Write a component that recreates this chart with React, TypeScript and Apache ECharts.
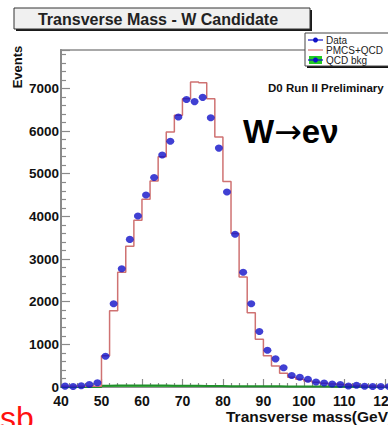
import React, { useEffect, useRef } from "react";
import * as echarts from "echarts";

// Histogram binning: 2 GeV bins, lower edges
const binLowEdges = [
  40, 42, 44, 46, 48, 50, 52, 54, 56, 58, 60, 62, 64, 66, 68, 70, 72, 74, 76, 78, 80,
  82, 84, 86, 88, 90, 92, 94, 96, 98, 100, 102, 104, 106, 108, 110, 112, 114, 116, 118, 120,
];
const binWidth = 2;

// PMCS+QCD prediction (events per bin)
const modelCounts = [
  15, 15, 15, 15, 15, 730, 1790, 2690, 3300, 3910, 4400, 4830, 5400, 5980, 6370, 6760,
  7150, 7130, 6760, 5860, 4820, 3600, 2580, 1740, 1120, 730, 490, 320, 230, 180, 140,
  110, 90, 70, 55, 40, 30, 25, 20, 15, 12,
];

// Data (events per bin)
const dataCounts = [
  20, 10, 30, 60, 100, 720, 1950, 2770, 3460, 4010, 4500, 4910, 5440, 5760, 6330, 6740,
  6690, 6790, 6310, 5600, 4570, 3580, 2690, 1950, 1300, 860, 660, 450, 270, 230, 180,
  117, 95, 70, 58, 25, 40, 18, 10, 12, 10,
];

// QCD background estimate (events per bin)
const qcdCounts = [
  0, 0, 0, 0, 0, 30, 35, 35, 35, 35, 35, 35, 35, 30, 30, 30, 30, 25, 25, 25, 20, 20,
  20, 15, 15, 15, 15, 12, 12, 10, 10, 10, 10, 8, 8, 8, 8, 6, 6, 6, 6,
];

const xTicks = { min: 40, max: 130, interval: 10 };
const yTicks = { min: 0, max: 7900, interval: 1000 };

const FONT = "'Liberation Sans', Arial, Helvetica, sans-serif";

function stepPoints(counts: number[]) {
  const pts: number[][] = binLowEdges.map((x, i) => [x, counts[i]]);
  const last = binLowEdges.length - 1;
  pts.push([binLowEdges[last] + binWidth, counts[last]]);
  return pts;
}

function legendText(label: string, y: number) {
  return {
    type: "text",
    x: 326,
    y,
    style: {
      text: label,
      fill: "#222",
      font: `10px ${FONT}`,
      lineHeight: 9,
      verticalAlign: "middle",
    },
    z: 12,
  };
}

export default function App() {
  const ref = useRef<HTMLDivElement>(null);

  useEffect(() => {
    if (!ref.current) return;
    const chart = echarts.init(ref.current, null, { renderer: "svg" });

    const dataPoints = binLowEdges.map((x, i) => [x + binWidth / 2, dataCounts[i]]);

    chart.setOption({
      animation: false,
      backgroundColor: "#ffffff",
      grid: {
        left: 61,
        top: 50,
        width: 364.5,
        height: 337,
        show: true,
        borderColor: "#a8a8a8",
        borderWidth: 2,
        backgroundColor: "transparent",
      },
      xAxis: {
        type: "value",
        min: xTicks.min,
        max: xTicks.max,
        interval: xTicks.interval,
        splitLine: { show: false },
        axisLine: { lineStyle: { color: "#8a8a8a", width: 1.5 } },
        axisTick: { inside: true, length: 8, lineStyle: { color: "#8a8a8a", width: 1.2 } },
        minorTick: { show: true, splitNumber: 5, length: 4, lineStyle: { color: "#8a8a8a", width: 1.2 } },
        axisLabel: {
          color: "#111",
          fontFamily: FONT,
          fontWeight: "bold",
          fontSize: 14,
          margin: 7,
        },
      },
      yAxis: {
        type: "value",
        min: yTicks.min,
        max: yTicks.max,
        interval: yTicks.interval,
        splitLine: { show: false },
        axisLine: { show: true, lineStyle: { color: "#8a8a8a", width: 2 } },
        axisTick: { inside: true, length: 9, lineStyle: { color: "#8a8a8a", width: 1.2 } },
        minorTick: { show: true, splitNumber: 5, length: 5, lineStyle: { color: "#8a8a8a", width: 1.2 } },
        axisLabel: {
          color: "#111",
          fontFamily: FONT,
          fontWeight: "bold",
          fontSize: 13.5,
          margin: 2,
          formatter: (v: number) => (v % 1000 === 0 ? String(v) : ""),
        },
      },
      series: [
        {
          name: "QCD bkg",
          type: "line",
          step: "end",
          data: stepPoints(qcdCounts),
          showSymbol: false,
          lineStyle: { color: "#1f8f2a", width: 2 },
          areaStyle: { color: "#33cc33" },
          z: 2,
        },
        {
          name: "PMCS+QCD",
          type: "line",
          step: "end",
          data: stepPoints(modelCounts),
          showSymbol: false,
          lineStyle: { color: "#cf7272", width: 1.5 },
          z: 3,
        },
        {
          name: "Data",
          type: "scatter",
          data: dataPoints,
          symbol: "circle",
          symbolSize: [8, 7],
          itemStyle: { color: "#1010c8" },
          z: 4,
        },
      ],
      graphic: [
        // title box with drop shadow
        { type: "rect", shape: { x: 16, y: 10, width: 296, height: 21 }, style: { fill: "#1a1a1a" }, z: 10 },
        {
          type: "rect",
          shape: { x: 14, y: 8, width: 296, height: 21 },
          style: { fill: "#f0f0f0", stroke: "#333", lineWidth: 1 },
          z: 11,
        },
        {
          type: "text",
          x: 158,
          y: 19,
          style: {
            text: "Transverse Mass - W Candidate",
            fill: "#222",
            font: `bold 16px ${FONT}`,
            align: "center",
            verticalAlign: "middle",
          },
          z: 12,
        },
        // legend box
        { type: "rect", shape: { x: 307, y: 35, width: 100, height: 33 }, style: { fill: "#111" }, z: 10 },
        {
          type: "rect",
          shape: { x: 305, y: 33, width: 100, height: 33 },
          style: { fill: "#ffffff", stroke: "#444", lineWidth: 1 },
          z: 11,
        },
        { type: "line", shape: { x1: 308, y1: 40, x2: 323, y2: 40 }, style: { stroke: "#1010c8", lineWidth: 1.2 }, z: 12 },
        { type: "circle", shape: { cx: 315.5, cy: 40, r: 2.5 }, style: { fill: "#1010c8" }, z: 12 },
        legendText("Data", 40),
        { type: "line", shape: { x1: 308, y1: 50, x2: 323, y2: 50 }, style: { stroke: "#cf7272", lineWidth: 1.2 }, z: 12 },
        legendText("PMCS+QCD", 50),
        { type: "rect", shape: { x: 309, y: 56, width: 13, height: 8 }, style: { fill: "#22cc22" }, z: 12 },
        { type: "line", shape: { x1: 308, y1: 60, x2: 323, y2: 60 }, style: { stroke: "#1010c8", lineWidth: 1.2 }, z: 13 },
        { type: "circle", shape: { cx: 315.5, cy: 60, r: 2.5 }, style: { fill: "#1010c8" }, z: 13 },
        legendText("QCD bkg", 60),
        // annotations
        {
          type: "text",
          x: 268,
          y: 88,
          style: { text: "D0 Run II Preliminary", fill: "#111", font: `bold 11.5px ${FONT}`, verticalAlign: "middle" },
          z: 12,
        },
        {
          type: "text",
          x: 243,
          y: 131,
          style: {
            text: "{a|W}{b|\u2192}{a|e\u03bd}",
            verticalAlign: "middle",
            rich: {
              a: { fill: "#000", fontFamily: FONT, fontWeight: "bold", fontSize: 33 },
              b: { fill: "#000", fontFamily: "'DejaVu Sans', sans-serif", fontWeight: "normal", fontSize: 33 },
            },
          },
          z: 12,
        },
        // axis titles
        {
          type: "text",
          x: 17,
          y: 67,
          rotation: Math.PI / 2,
          style: { text: "Events", fill: "#111", font: `bold 13px ${FONT}`, align: "center", verticalAlign: "middle" },
          z: 12,
        },
        {
          type: "text",
          x: 226,
          y: 416,
          style: { text: "Transverse mass(GeV)", fill: "#111", font: `bold 15.5px ${FONT}`, verticalAlign: "middle" },
          z: 12,
        },
        {
          type: "text",
          x: 0,
          y: 402,
          style: { text: "sb", fill: "#ff1010", font: `32px ${FONT}`, verticalAlign: "top" },
          z: 12,
        },
      ],
    });

    return () => chart.dispose();
  }, []);

  return (
    <div
      style={{
        position: "fixed",
        left: 0,
        top: 0,
        width: 388,
        height: 425,
        overflow: "hidden",
        background: "#ffffff",
      }}
    >
      <div ref={ref} style={{ width: 440, height: 425 }} />
    </div>
  );
}
